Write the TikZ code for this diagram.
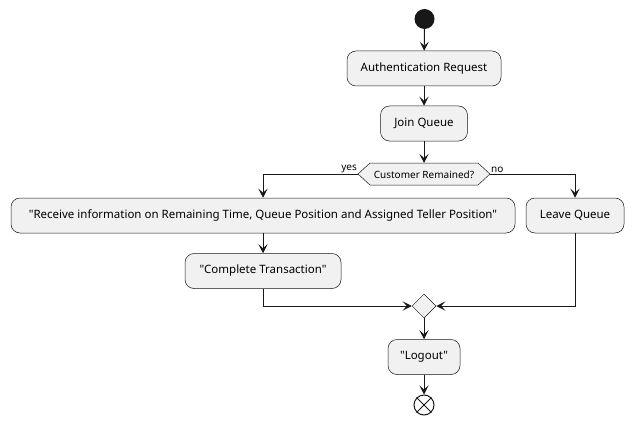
\documentclass[tikz,border=0pt]{standalone}
\usepackage{fontspec}
\setmainfont{Noto Sans}[Ligatures=TeXOff]
\usetikzlibrary{arrows.meta,calc,shapes.geometric}
\definecolor{boxfill}{HTML}{F1F1F1}
\definecolor{ink}{HTML}{181818}

\begin{document}
\begin{tikzpicture}[x=1pt,y=-1pt,every node/.style={inner sep=2pt},
    >={Stealth[length=9pt,width=9pt,inset=4pt]},
    act/.style={draw=ink,line width=0.5pt,fill=boxfill,rounded corners=9pt,
      minimum height=35pt,font=\fontsize{11.5}{13}\selectfont},
    flow/.style={->,draw=ink,line width=1pt},
    small/.style={font=\fontsize{10}{12}\selectfont}]
    \useasboundingbox(0,0)rectangle(634,425);
    \node[circle,fill=ink,minimum size=20pt,inner sep=0pt](start)at(424.5,19){};
    \node[act,minimum width=154pt](auth)at(424,68.5){Authentication Request};
    \node[act,minimum width=87pt](join)at(424,123.5){Join Queue};
    % decision
    \draw[ink,line width=0.5pt,fill=boxfill](358,174)coordinate(cw)--(370,163)--(478,163)
      --(490,174)coordinate(ce)--(478,185)--(370,185)--cycle;
    \node[small](cond)at(424,174.5){Customer Remained?};
    \node[small,anchor=south east,inner sep=1pt]at(cw){yes};
    \node[small,anchor=south west,inner sep=1pt]at(ce){no};
    \node[act,minimum width=504pt](recv)at(263,215.5)
      {"Receive information on Remaining Time, Queue Position and Assigned Teller Position"};
    \node[act,minimum width=156pt](done)at(263,271){"Complete Transaction"};
    \node[act,minimum width=98pt](leave)at(575,215.5){Leave Queue};
    % merge
    \node[draw=ink,line width=0.5pt,fill=boxfill,diamond,minimum size=24pt,inner sep=0pt](merge)
      at(424,306){};
    \node[act,minimum width=72pt](logout)at(424,357){"Logout"};
    \node[circle,draw=ink,line width=1pt,minimum size=20pt,inner sep=0pt](stop)at(424,405){};
    \draw[ink,line width=1pt](stop.north west)--(stop.south east)
      (stop.north east)--(stop.south west);
    \draw[flow](start)--(auth);
    \draw[flow](auth)--(join);
    \draw[flow](join)--(424,163);
    \draw[flow](cw)-|(recv.north);
    \draw[flow](ce)-|(leave.north);
    \draw[flow](recv)--(done);
    \draw[flow](done.south)|-(merge.west);
    \draw[flow](leave.south)|-(merge.east);
    \draw[flow](merge)--(logout);
    \draw[flow](logout)--(stop);
  \end{tikzpicture}
\end{document}
